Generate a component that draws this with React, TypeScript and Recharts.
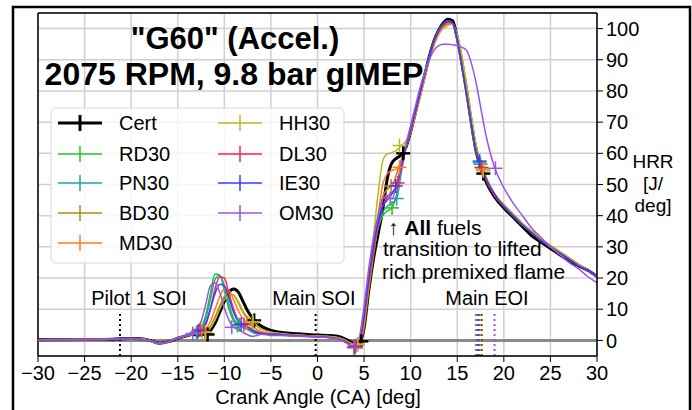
import React from "react";
import {
  CartesianGrid,
  ComposedChart,
  Line,
  ReferenceLine,
  Scatter,
  XAxis,
  YAxis
} from "recharts";

const FONT = '"Liberation Sans", Arial, Helvetica, sans-serif';

// crank angle grid [deg]
const crankAngle = [
  -30, -25, -22, -20, -19, -18, -17, -16, -15, -14,
  -13.5, -13, -12.5, -12, -11.5, -11, -10.5, -10, -9.5, -9, -8.5, -8, -7.5, -7, -6.5, -6,
  -5, -4, -3, -2, -1, 0, 1, 2, 3,
  3.5, 4, 4.5, 5, 5.5, 6, 6.5, 7, 7.5, 8, 8.5, 9, 9.5, 10, 10.5, 11, 11.5, 12, 12.5, 13, 13.5, 14, 14.5, 15, 15.5, 16, 16.5, 17, 17.5, 18,
  19, 20, 21, 22, 23, 24, 25, 26, 27, 28, 29, 30
];

// HRR [J/deg]
const cert = [
  0.2, 0.3, 0.4, 0.6, 0.5, 0, -0.9, -0.4, 0.7, 1.5,
  1.9, 1.8, 1.8, 2.0, 3.2, 5.5, 9, 12.5, 15.5, 16.5, 15.5, 12.5, 9.5, 7.2, 5.6, 4.5,
  3.2, 2.6, 2.3, 2.1, 1.9, 1.7, 1.6, 1.4, 0.4,
  -0.4, -1.0, -0.6, 4, 16, 26, 34, 42, 52, 57, 58.5, 59.5, 62, 67, 73, 79, 85, 91, 96, 99.5, 101.8, 103, 102.5, 97, 89, 80, 70, 61, 55.5, 51.5,
  46, 42.5, 39.5, 36.5, 33.5, 31.5, 29.5, 27.5, 25.5, 24, 22.5, 20.5
];
const rd30 = [
  0.2, 0.3, 0.4, 0.5, 0.4, -0.1, -1.0, -0.4, 0.8, 1.6,
  2.1, 2.6, 4, 8, 15, 21.3, 21, 16, 10, 6.2, 4.8, 4.2, 3.6, 2.6, 2.1, 2.0,
  2.1, 1.9, 1.6, 1.4, 1.3, 1.2, 1.0, 0.6, -0.6,
  -1.6, -2.4, -0.5, 8, 20, 29, 36, 40, 41.5, 42.5, 47, 55, 62, 67.5, 73.5, 79.5, 85.5, 91, 96, 99.5, 101.5, 102.5, 101.5, 96, 87.5, 78.5, 69, 60.5, 56, 52,
  46.5, 43, 40, 37, 34.5, 32, 30, 28, 26, 24, 22.5, 20.5
];
const pn30 = [
  0.2, 0.3, 0.4, 0.5, 0.4, -0.1, -1.0, -0.4, 0.8, 1.6,
  2.0, 2.4, 3.5, 7, 13, 19.5, 20.8, 17.5, 11.5, 7, 5, 4.2, 3.5, 2.8, 2.2, 2.0,
  2.0, 1.9, 1.6, 1.4, 1.3, 1.2, 1.0, 0.6, -0.4,
  -1.4, -2.2, -0.5, 7, 19, 28, 36, 41, 43, 44, 45.5, 54, 62, 67.5, 73.5, 79.5, 85.5, 91, 96, 99.5, 101.5, 102.5, 101.5, 96, 88, 79, 69.5, 61, 56.5, 52.5,
  47, 43, 40, 37, 34.5, 32, 30, 28, 26, 24, 22.5, 20.5
];
const bd30 = [
  0.2, 0.3, 0.4, 0.6, 0.5, 0, -0.9, -0.4, 0.7, 1.5,
  1.9, 2.0, 2.3, 3, 4.5, 7.5, 11, 14, 15, 14.5, 12, 9, 7, 5.6, 4.5, 3.6,
  2.6, 2.2, 1.9, 1.7, 1.5, 1.4, 1.3, 1.0, 0,
  -0.8, -1.5, -1, 4, 16, 27, 37, 46, 48.5, 49.5, 53.5, 58, 62, 66.5, 72, 78, 84, 90, 95, 98.5, 100.5, 101.5, 101.5, 98, 91, 82, 72, 63, 57, 53,
  47, 43.5, 40.5, 37.5, 35, 32.5, 30.5, 28.5, 26.5, 24.5, 22.5, 20.5
];
const md30 = [
  0.2, 0.3, 0.4, 0.6, 0.5, 0, -0.9, -0.4, 0.7, 1.5,
  1.9, 2.0, 2.5, 3.5, 6, 10, 14, 16.5, 16, 13, 9.5, 7, 5.5, 4.5, 3.5, 2.8,
  2.2, 2.0, 1.7, 1.5, 1.4, 1.3, 1.2, 0.9, 0,
  -0.9, -1.8, -0.5, 6, 18, 29, 40, 50, 53.5, 54.5, 55, 57.5, 62, 67, 72.5, 78.5, 84.5, 90.5, 95.5, 99, 101, 101.8, 101.5, 97.5, 90, 81, 71, 62, 56.5, 52.5,
  47, 43.5, 40.5, 37.5, 35, 32.5, 30.5, 28.5, 26.5, 24.5, 22.5, 20.5
];
const hh30 = [
  0.2, 0.3, 0.4, 0.6, 0.5, 0, -0.9, -0.4, 0.7, 1.5,
  1.9, 2.0, 2.2, 2.8, 4, 6.5, 10, 13, 14.3, 14.5, 12.5, 9.5, 7.5, 6, 4.6, 3.6,
  2.6, 2.2, 1.9, 1.7, 1.5, 1.4, 1.3, 1.0, 0,
  -0.8, -1.5, -0.5, 6, 20, 33, 47, 57.5, 59.8, 60.2, 61, 62.5, 64, 67.5, 72.5, 78, 84, 90, 94.5, 98, 100, 101, 101.5, 98, 91, 82, 72, 63, 57, 53,
  47, 43.5, 40.5, 37.5, 35, 32.5, 30.5, 28.5, 26.5, 24.5, 22.5, 20.5
];
const dl30 = [
  0.2, 0.3, 0.4, 0.5, 0.4, -0.1, -1.0, -0.4, 0.8, 1.6,
  2.0, 2.2, 3, 5, 10, 16.5, 20.3, 20, 15, 10, 6.5, 5.2, 4.5, 3.5, 2.8, 2.4,
  2.0, 1.9, 1.7, 1.5, 1.3, 1.2, 1.1, 0.7, -0.3,
  -1.2, -2, -0.5, 7, 19, 29, 37, 43, 46, 47.5, 49.5, 55, 62, 67.5, 73, 79, 85, 90.5, 95.5, 99, 101, 102, 101.8, 96.5, 88, 79, 69.5, 61, 56, 52,
  46.5, 43, 40, 37, 34.5, 32, 30, 28, 26, 24, 22.5, 20.5
];
const ie30 = [
  0.2, 0.3, 0.4, 0.5, 0.4, -0.1, -1.0, -0.4, 0.8, 1.6,
  2.0, 2.3, 3.2, 5.5, 10, 15, 18, 17.5, 13.5, 9, 6, 5, 4.2, 3.2, 2.5, 2.2,
  2.0, 1.9, 1.6, 1.4, 1.3, 1.2, 1.0, 0.6, -0.4,
  -1.4, -2.2, -0.2, 8, 20, 30, 38, 43, 45, 47, 50, 56, 62, 67.5, 73.5, 79.5, 85.5, 91, 96, 99.5, 101.5, 102.5, 101.8, 96.5, 88, 79, 69.5, 61, 56.5, 52.5,
  47, 43, 40, 37, 34.5, 32, 30, 28, 26, 24, 22.5, 20.5
];
const om30 = [
  0.2, 0.3, 0.4, 0.5, 0.4, -0.1, -1.0, -0.4, 0.8, 1.7,
  2.1, 3, 6, 11.5, 17.5, 18.5, 15.5, 10.5, 6.5, 4.2, 3.5, 2.6, 1.8, 1.3, 1.6, 2.0,
  1.6, 1.6, 1.4, 1.3, 1.2, 1.1, 0.9, 0.5, -0.6,
  -1.6, -2.5, 1, 11, 23, 33, 40, 45.5, 46.5, 45.5, 50, 57, 63, 69, 75, 81, 86, 90, 93, 94.5, 95, 95, 94.8, 94.5, 94, 93, 89, 83, 75, 67,
  55.5, 49, 44, 40, 36, 33, 30, 27.5, 25, 23, 20.5, 18.5
];

// "+" markers [CA, HRR]
const certMarks = [[-11.8, 1.9], [-6.8, 6.4], [4.7, -0.3], [9.2, 60], [17.8, 53.5]];
const rd30Marks = [[-13.0, 2.5], [-8.6, 4.8], [4.0, -2.4], [8.0, 42.5], [17.4, 57]];
const pn30Marks = [[-12.9, 2.5], [-8.4, 5.0], [4.0, -2.2], [8.5, 45.5], [17.5, 56.5]];
const bd30Marks = [[-12.1, 2.8], [-7.0, 5.6], [4.3, -1.3], [7.9, 49.5], [17.8, 54.5]];
const md30Marks = [[-12.4, 2.8], [-7.6, 5.5], [4.3, -1.3], [8.8, 55.5], [17.7, 55]];
const hh30Marks = [[-12.0, 2.6], [-6.9, 6.0], [4.3, -1.2], [8.8, 62.5], [17.8, 54.5]];
const dl30Marks = [[-12.6, 3.5], [-7.9, 5.1], [4.1, -1.8], [8.6, 50.5], [17.6, 55.5]];
const ie30Marks = [[-12.8, 3.0], [-8.2, 5.2], [3.9, -2.1], [8.4, 49.5], [17.4, 57.5]];
const om30Marks = [[-13.4, 2.2], [-9.2, 4.2], [3.9, -2.3], [7.8, 45.5], [19.1, 55.2]];

// main EOI per fuel [CA]
const eoi = { Cert: 17.6, RD30: 17.0, PN30: 17.1, BD30: 17.5, MD30: 17.3, HH30: 17.4, DL30: 17.2, IE30: 17.3, OM30: 19.0 };
const pilotSoi = -21.2;
const mainSoi = -0.2;

const xTicks = [-30, -25, -20, -15, -10, -5, 0, 5, 10, 15, 20, 25, 30];
const yTicks = [0, 10, 20, 30, 40, 50, 60, 70, 80, 90, 100];

const series = [
  { key: "Cert", color: "#000000", width: 3, values: cert, marks: certMarks },
  { key: "RD30", color: "#22c422", width: 1.5, values: rd30, marks: rd30Marks },
  { key: "PN30", color: "#1aa5a5", width: 1.5, values: pn30, marks: pn30Marks },
  { key: "BD30", color: "#b8860b", width: 1.5, values: bd30, marks: bd30Marks },
  { key: "MD30", color: "#ff7a22", width: 1.5, values: md30, marks: md30Marks },
  { key: "HH30", color: "#b8b822", width: 1.5, values: hh30, marks: hh30Marks },
  { key: "DL30", color: "#ff1f4f", width: 1.5, values: dl30, marks: dl30Marks },
  { key: "IE30", color: "#3a3aff", width: 1.5, values: ie30, marks: ie30Marks },
  { key: "OM30", color: "#9a55e0", width: 1.5, values: om30, marks: om30Marks }
];

const data = crankAngle.map((x, i) => {
  const row: Record<string, number> = { x };
  series.forEach((s) => (row[s.key] = s.values[i]));
  return row;
});

const plus = (color: string, w: number, size: number) => (props: any) => {
  const { cx, cy } = props;
  return (
    <g>
      <line x1={cx - size} x2={cx + size} y1={cy} y2={cy} stroke={color} strokeWidth={w} />
      <line x1={cx} x2={cx} y1={cy - size} y2={cy + size} stroke={color} strokeWidth={w} />
    </g>
  );
};

const fmtX = (v: number) => (v < 0 ? `\u2212${-v}` : `${v}`);

function LegendBox() {
  const rows = [123, 154, 183, 213, 243];
  return (
    <g>
      <rect x={51} y={108} width={293} height={155} rx={5} fill="rgba(255,255,255,0.8)" stroke="#d8d8d8" />
      {series.map((s, i) => {
        const col = i < 5 ? 0 : 1;
        const y = rows[col === 0 ? i : i - 5];
        const x0 = col === 0 ? 58 : 218;
        const sw = s.key === "Cert" ? 3 : 1.5;
        return (
          <g key={s.key}>
            <line x1={x0} x2={x0 + 44} y1={y} y2={y} stroke={s.color} strokeWidth={sw} />
            <line x1={x0 + 22} x2={x0 + 22} y1={y - 8} y2={y + 8} stroke={s.color} strokeWidth={sw} />
            <text x={x0 + 61} y={y + 7} fontSize={20} fontFamily={FONT} fill="#000">
              {s.key}
            </text>
          </g>
        );
      })}
    </g>
  );
}

export default function App() {
  return (
    <div style={{ position: "fixed", left: 0, top: 0, width: 692, height: 410, background: "#fff" }}>
      <ComposedChart width={692} height={410} data={data} margin={{ top: 13, right: 35, bottom: 24, left: 38 }}>
        <CartesianGrid stroke="#d0d0d0" strokeWidth={1.5} />
        <XAxis
          dataKey="x"
          type="number"
          domain={[-30, 30]}
          ticks={xTicks}
          allowDataOverflow
          height={30}
          tickFormatter={fmtX}
          tick={{ fill: "#000", fontSize: 20, fontFamily: FONT }}
          tickLine={{ stroke: "#000" }}
          axisLine={{ stroke: "#000", strokeWidth: 1.5 }}
          tickSize={6}
          tickMargin={4}
        />
        <YAxis
          orientation="right"
          type="number"
          domain={[-5, 105]}
          ticks={yTicks}
          allowDataOverflow
          width={60}
          tick={{ fill: "#000", fontSize: 20, fontFamily: FONT }}
          tickLine={{ stroke: "#000" }}
          axisLine={{ stroke: "#000", strokeWidth: 1.5 }}
          tickSize={6}
          tickMargin={3}
        />
        <ReferenceLine x={-30} stroke="#000" strokeWidth={1.5} />
        <ReferenceLine y={105} stroke="#000" strokeWidth={1.5} />
        <ReferenceLine y={0} stroke="#8a8a8a" strokeWidth={3} />
        <ReferenceLine segment={[{ x: pilotSoi, y: -5 }, { x: pilotSoi, y: 8.5 }]} stroke="#000" strokeWidth={2} strokeDasharray="2 3" />
        <ReferenceLine segment={[{ x: mainSoi, y: -5 }, { x: mainSoi, y: 8.5 }]} stroke="#000" strokeWidth={2} strokeDasharray="2 3" />
        {series.map((s) => (
          <ReferenceLine
            key={"eoi" + s.key}
            segment={[{ x: eoi[s.key as keyof typeof eoi], y: -5 }, { x: eoi[s.key as keyof typeof eoi], y: 9 }]}
            stroke={s.color}
            strokeWidth={2}
            strokeDasharray="2 3"
          />
        ))}
        {series.map((s) => (
          <Line
            key={s.key}
            type="monotone"
            dataKey={s.key}
            stroke={s.color}
            strokeWidth={s.width}
            dot={false}
            activeDot={false}
            isAnimationActive={false}
          />
        ))}
        {series.map((s) => (
          <Scatter
            key={"m" + s.key}
            data={s.marks.map(([x, y]) => ({ x, y }))}
            dataKey="y"
            shape={plus(s.color, s.key === "Cert" ? 2.5 : 1.5, 7)}
            isAnimationActive={false}
          />
        ))}
      </ComposedChart>
      <svg width={692} height={410} style={{ position: "absolute", left: 0, top: 0, pointerEvents: "none" }}>
        <rect x={13} y={7} width={677} height={410} fill="none" stroke="#000" strokeWidth={2.5} />
        <g fontFamily={FONT} fill="#000">
          <text x={235} y={49} textAnchor="middle" fontSize={31} fontWeight="bold">
            "G60" (Accel.)
          </text>
          <text x={234} y={85} textAnchor="middle" fontSize={32} fontWeight="bold">
            2075 RPM, 9.8 bar gIMEP
          </text>
          <text x={388} y={235} fontSize={21}>
            ↑ <tspan fontWeight="bold">All</tspan> fuels
          </text>
          <text x={383} y={256} fontSize={21}>
            transition to lifted
          </text>
          <text x={382} y={279} fontSize={21}>
            rich premixed flame
          </text>
          <text x={139} y={305} textAnchor="middle" fontSize={20}>
            Pilot 1 SOI
          </text>
          <text x={314} y={305} textAnchor="middle" fontSize={20}>
            Main SOI
          </text>
          <text x={487} y={305} textAnchor="middle" fontSize={20}>
            Main EOI
          </text>
          <text x={653} y={168} textAnchor="middle" fontSize={19}>
            HRR
          </text>
          <text x={653} y={190} textAnchor="middle" fontSize={19}>
            [J/
          </text>
          <text x={653} y={212} textAnchor="middle" fontSize={19}>
            deg]
          </text>
          <text x={318} y={404} textAnchor="middle" fontSize={20}>
            Crank Angle (CA) [deg]
          </text>
        </g>
        <LegendBox />
      </svg>
    </div>
  );
}
